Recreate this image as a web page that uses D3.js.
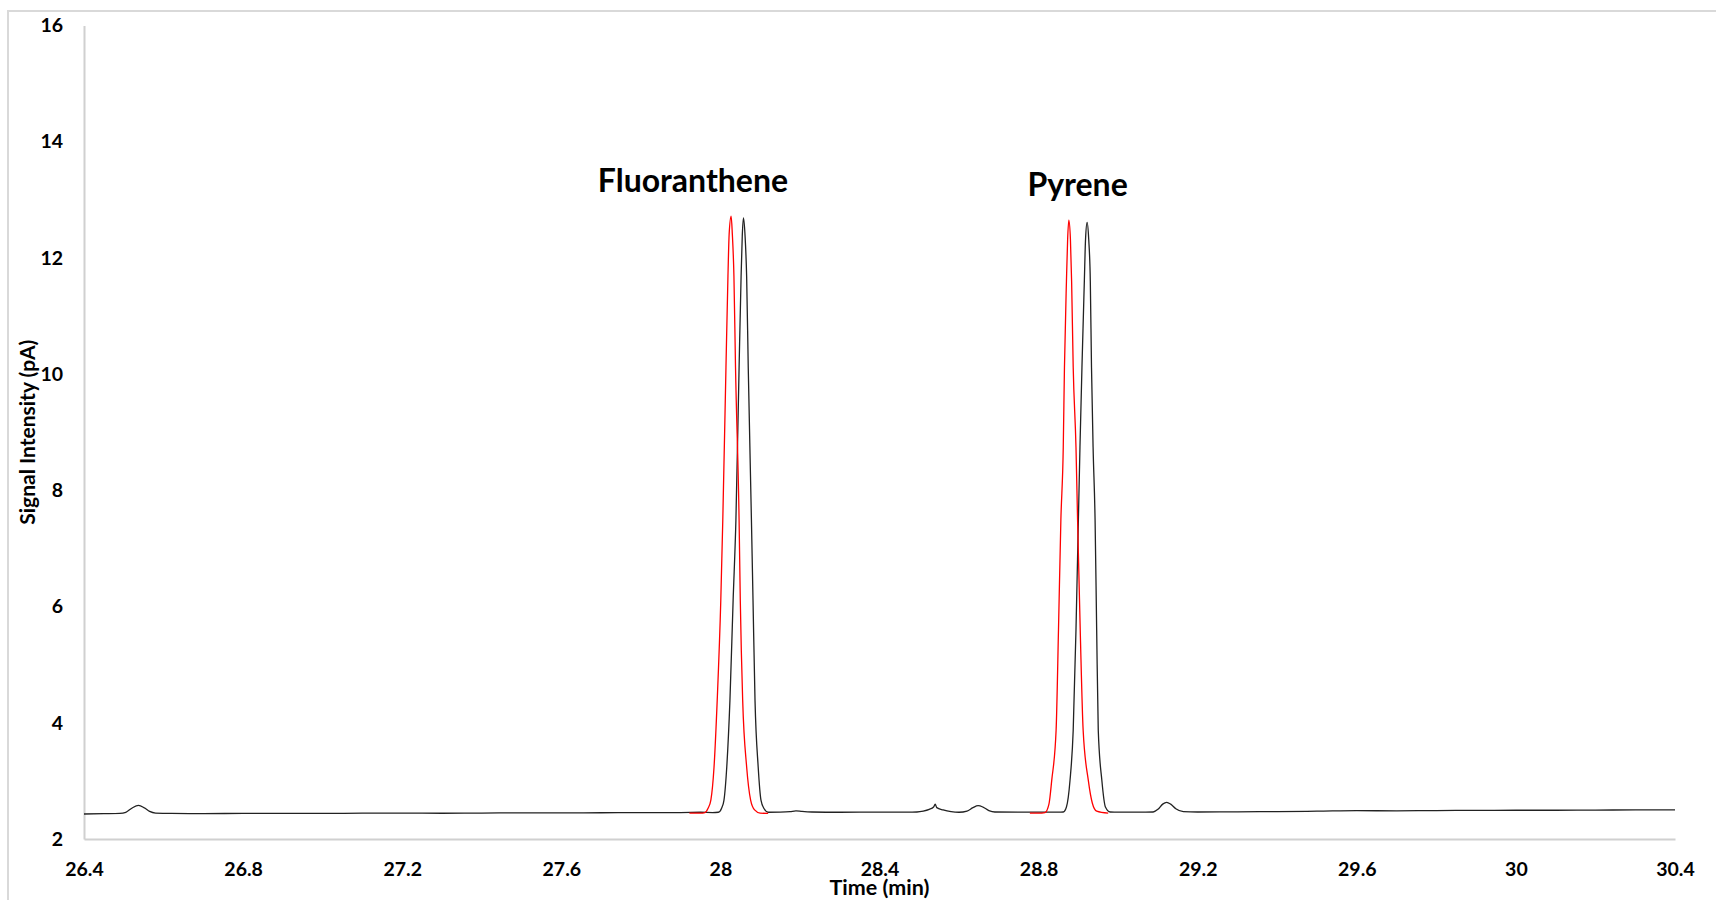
<!DOCTYPE html>
<html>
<head>
<meta charset="utf-8">
<script src="https://cdn.jsdelivr.net/npm/d3@7/dist/d3.min.js"></script>
<style>
  html, body { margin: 0; padding: 0; background: #ffffff; }
  svg { display: block; }
  text { font-family: Lato, "Noto Sans", sans-serif; font-weight: 700; fill: #000; }
</style>
</head>
<body>
<svg id="chart" width="1716" height="900"></svg>
<script>
// Time axis ticks (min) and signal axis ticks (pA)
const xTicks = [26.4, 26.8, 27.2, 27.6, 28.0, 28.4, 28.8, 29.2, 29.6, 30.0, 30.4];
const xTickLabels = ["26.4", "26.8", "27.2", "27.6", "28", "28.4", "28.8", "29.2", "29.6", "30", "30.4"];
const yTicks = [2, 4, 6, 8, 10, 12, 14, 16];

// Full chromatogram, black trace: [time (min), signal (pA)]
const blackTrace = [
  [26.40, 2.430], [26.45, 2.435], [26.49, 2.440], [26.505, 2.46], [26.52, 2.53],
  [26.537, 2.58], [26.552, 2.535], [26.565, 2.475], [26.58, 2.447], [26.62, 2.440],
  [26.70, 2.438], [26.80, 2.440], [26.90, 2.442], [27.00, 2.440], [27.10, 2.444],
  [27.20, 2.445], [27.30, 2.443], [27.40, 2.447], [27.50, 2.450], [27.60, 2.448],
  [27.70, 2.452], [27.80, 2.455], [27.90, 2.455], [27.95, 2.460], [27.98, 2.455],
  [27.995, 2.46], [28.003, 2.53], [28.009, 2.67], [28.016, 3.24], [28.024, 4.39],
  [28.032, 6.11], [28.039, 7.49], [28.047, 10.12], [28.052, 11.67], [28.055, 12.38],
  [28.058, 12.69], [28.062, 12.38], [28.066, 11.67], [28.070, 10.12], [28.078, 7.49],
  [28.082, 6.11], [28.087, 4.39], [28.095, 3.24], [28.102, 2.67], [28.110, 2.52],
  [28.120, 2.46], [28.15, 2.462], [28.175, 2.47], [28.19, 2.485], [28.205, 2.475],
  [28.23, 2.465], [28.30, 2.460], [28.40, 2.462], [28.47, 2.462], [28.494, 2.465],
  [28.51, 2.48], [28.525, 2.51], [28.536, 2.55], [28.540, 2.60], [28.544, 2.54],
  [28.56, 2.50], [28.58, 2.47], [28.60, 2.460], [28.62, 2.48], [28.635, 2.54],
  [28.648, 2.573], [28.66, 2.55], [28.675, 2.49], [28.69, 2.465], [28.75, 2.462],
  [28.80, 2.462], [28.85, 2.462], [28.862, 2.465], [28.870, 2.55], [28.879, 3.01],
  [28.887, 3.87], [28.894, 5.6], [28.900, 7.49], [28.904, 8.74], [28.909, 10.12],
  [28.915, 11.6], [28.918, 12.32], [28.922, 12.61], [28.926, 12.32], [28.930, 11.6],
  [28.933, 10.12], [28.937, 8.74], [28.942, 7.49], [28.946, 5.6], [28.950, 3.87],
  [28.959, 3.01], [28.968, 2.55], [28.980, 2.465], [29.00, 2.462], [29.05, 2.462],
  [29.088, 2.465], [29.100, 2.51], [29.112, 2.60], [29.122, 2.63], [29.132, 2.60],
  [29.145, 2.52], [29.164, 2.47], [29.20, 2.465], [29.30, 2.468], [29.40, 2.472],
  [29.50, 2.478], [29.60, 2.488], [29.70, 2.485], [29.80, 2.490], [29.90, 2.492],
  [30.00, 2.495], [30.10, 2.495], [30.20, 2.498], [30.30, 2.500], [30.40, 2.500]
];

// Red trace around fluoranthene
const redFluoranthene = [
  [27.922, 2.445], [27.950, 2.445], [27.961, 2.455], [27.969, 2.53], [27.976, 2.67],
  [27.984, 3.24], [27.992, 4.39], [28.001, 6.11], [28.006, 7.49], [28.014, 10.12],
  [28.019, 11.69], [28.022, 12.41], [28.027, 12.72], [28.030, 12.41], [28.034, 11.69],
  [28.038, 10.12], [28.047, 7.49], [28.050, 6.11], [28.056, 4.39], [28.066, 3.24],
  [28.076, 2.67], [28.086, 2.50], [28.100, 2.445], [28.120, 2.44]
];

// Red trace around pyrene
const redPyrene = [
  [28.778, 2.445], [28.800, 2.445], [28.816, 2.455], [28.826, 2.60], [28.833, 3.01],
  [28.844, 3.87], [28.850, 5.6], [28.856, 7.49], [28.862, 8.74], [28.865, 10.12],
  [28.870, 11.6], [28.873, 12.32], [28.876, 12.65], [28.880, 12.32], [28.883, 11.6],
  [28.887, 10.12], [28.894, 8.74], [28.898, 7.49], [28.905, 5.5], [28.912, 3.87],
  [28.925, 3.01], [28.935, 2.62], [28.946, 2.48], [28.975, 2.445]
];

// Peak labels: [name, time, signal]
const peakLabels = [
  ["Fluoranthene", 27.931, 13.13],
  ["Pyrene", 28.898, 13.06]
];

const svg = d3.select("#chart");
const W = 1716, H = 900;
const margin = { left: 84, right: 41, top: 25.5, bottom: 61 };

// outer frame
svg.append("rect")
  .attr("x", 8).attr("y", 11)
  .attr("width", W + 20).attr("height", H + 20)
  .attr("fill", "none").attr("stroke", "#d9d9d9").attr("stroke-width", 2);

const x = d3.scaleLinear().domain([26.4, 30.4]).range([margin.left, W - margin.right]);
const y = d3.scaleLinear().domain([2, 16]).range([H - margin.bottom, margin.top]);

// x axis
const gx = svg.append("g")
  .attr("transform", `translate(0,${H - margin.bottom})`)
  .call(d3.axisBottom(x).tickValues(xTicks)
    .tickFormat((d, i) => xTickLabels[i]).tickSize(0).tickSizeOuter(0).tickPadding(23));
gx.select(".domain").attr("stroke", "#d0d0d0").attr("stroke-width", 2);
gx.selectAll("text").attr("font-size", 19.5).attr("font-family", "Lato, sans-serif").attr("font-weight", 700).attr("fill", "#000");

// y axis
const gy = svg.append("g")
  .attr("transform", `translate(${margin.left},0)`)
  .call(d3.axisLeft(y).tickValues(yTicks).tickFormat(d3.format("d"))
    .tickSize(0).tickSizeOuter(0).tickPadding(21));
gy.select(".domain").attr("stroke", "#d0d0d0").attr("stroke-width", 2);
gy.selectAll("text").attr("font-size", 19.5).attr("font-family", "Lato, sans-serif").attr("font-weight", 700).attr("fill", "#000");

// axis titles
svg.append("text")
  .attr("x", (x.range()[0] + x.range()[1]) / 2)
  .attr("y", 895)
  .attr("text-anchor", "middle")
  .attr("font-size", 21.5)
  .text("Time (min)");

svg.append("text")
  .attr("transform", `translate(35,${(y.range()[0] + y.range()[1]) / 2}) rotate(-90)`)
  .attr("text-anchor", "middle")
  .attr("font-size", 21)
  .text("Signal Intensity (pA)");

const line = d3.line()
  .x(d => x(d[0]))
  .y(d => y(d[1]))
  .curve(d3.curveMonotoneX);

const plot = svg.append("g");

plot.append("path")
  .datum(blackTrace)
  .attr("d", line)
  .attr("fill", "none")
  .attr("stroke", "#222222")
  .attr("stroke-width", 1.3)
  .attr("stroke-linejoin", "round");

[redFluoranthene, redPyrene].forEach(trace => {
  plot.append("path")
    .datum(trace)
    .attr("d", line)
    .attr("fill", "none")
    .attr("stroke", "#ff0000")
    .attr("stroke-width", 1.3)
    .attr("stroke-linejoin", "round");
});

// peak names
svg.selectAll(".peak-label")
  .data(peakLabels)
  .join("text")
  .attr("class", "peak-label")
  .attr("x", d => x(d[1]))
  .attr("y", d => y(d[2]))
  .attr("text-anchor", "middle")
  .attr("font-size", 32)
  .text(d => d[0]);
</script>
</body>
</html>
